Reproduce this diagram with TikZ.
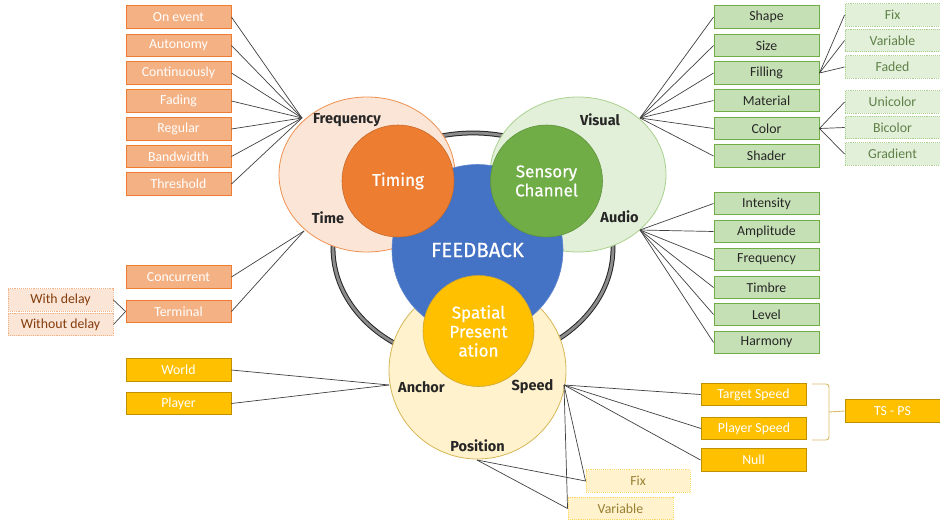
\documentclass[tikz,border=0pt]{standalone}
\usepackage{fontspec}
\setmainfont{Carlito}
\newfontfamily\dinfont{Fira Sans}
\newfontfamily\dinmed[FakeBold=0.6]{Fira Sans}
\usetikzlibrary{shapes.geometric}
\definecolor{orangeD}{HTML}{ED7D31}
\definecolor{orangeM}{HTML}{F4B183}
\definecolor{orangeL}{HTML}{FBE5D6}
\definecolor{orangeT}{HTML}{843C0C}
\definecolor{greenD}{HTML}{70AD47}
\definecolor{greenM}{HTML}{C5E0B4}
\definecolor{greenL}{HTML}{E2F0D9}
\definecolor{greenB}{HTML}{548235}
\definecolor{greenS}{HTML}{A9D18E}
\definecolor{yelD}{HTML}{FFC000}
\definecolor{yelB}{HTML}{BF9000}
\definecolor{yelL}{HTML}{FFF2CC}
\definecolor{yelS}{HTML}{FFD966}
\definecolor{yelT}{HTML}{7F6000}
\definecolor{yelR}{HTML}{D6B656}
\definecolor{blueF}{HTML}{4472C4}
\definecolor{txt}{HTML}{262626}
\tikzset{
  box/.style={rectangle, minimum width=105pt, minimum height=22.5pt, inner sep=0pt, line width=0.9pt, font=\fontsize{13.8}{14}\selectfont},
  obox/.style={box, fill=orangeM, draw=orangeD, text=white},
  odbox/.style={box, fill=orangeL, draw=orangeM, densely dotted, text=orangeT},
  gbox/.style={box, fill=greenM, draw=greenD, text=txt},
  gdbox/.style={box, minimum width=95pt, fill=greenL, draw=greenS, densely dotted, text=greenB!75!gray},
  ybox/.style={box, fill=yelD, draw=yelB, text=white},
  ydbox/.style={box, fill=yelL, draw=yelS, densely dotted, text=yelT!80},
  conn/.style={draw=black!75, line width=0.7pt},
  lbl/.style={font=\dinfont\bfseries\fontsize{14.5}{15}\selectfont, text=txt, inner sep=0pt},
  bigtxt/.style={font=\dinmed\fontsize{17}{19}\selectfont, text=white, align=center},
}
\begin{document}
\begin{tikzpicture}[x=1pt, y=-1pt]
\useasboundingbox (0,0) rectangle (940,522);
% ring
\draw[draw=black!85, line width=1pt, double=black!45, double distance=2.8pt] (473,248) ellipse [x radius=140pt, y radius=115pt];
% background ellipses
\node[ellipse, minimum width=176pt, minimum height=155pt, inner sep=0pt, fill=orangeL, draw=orangeD!85, line width=0.8pt] (timingbg) at (367,174.5) {};
\node[ellipse, minimum width=176pt, minimum height=155pt, inner sep=0pt, fill=greenL, draw=greenS, line width=0.8pt] (sensebg) at (578,174.5) {};
\node[circle, minimum size=177pt, inner sep=0pt, fill=yelL, draw=yelR, line width=0.8pt] (spatialbg) at (477.5,370.5) {};
% main circles
\node[circle, minimum size=171pt, inner sep=0pt, fill=blueF, draw=blueF!85!white, line width=0.6pt, font=\dinmed\fontsize{20.5}{22}\selectfont, text=white] (feedback) at (477.5,250) {\raisebox{-2pt}{FEEDBACK}};
\node[circle, minimum size=112pt, inner sep=0pt, fill=orangeD, draw=orangeD!85!black, line width=0.6pt, bigtxt] (timing) at (398,181) {Timing};
\node[circle, minimum size=112pt, inner sep=0pt, fill=greenD, draw=greenD!85!black, line width=0.6pt, bigtxt] (sensory) at (546.5,181) {Sensory\\Channel};
\node[circle, minimum size=111pt, inner sep=0pt, fill=yelD, draw=yelB!80, line width=0.6pt, bigtxt] (spatial) at (478.5,331) {Spatial\\Present\\ation};
% labels
\node[lbl] (freqlbl) at (347,120) {Frequency};
\node[lbl] (timelbl) at (328,218) {Time};
\node[lbl] (visuallbl) at (600,120) {Visual};
\node[lbl] (audiolbl) at (619.5,217) {Audio};
\node[lbl] (anchorlbl) at (421.5,387) {Anchor};
\node[lbl] (speedlbl) at (532.5,387) {Speed};
\node[lbl] (positionlbl) at (477.5,446) {Position};
% hubs
\coordinate (freqhub) at (302,118);
\coordinate (timehub) at (304,231);
\coordinate (visualhub) at (640,118);
\coordinate (audiohub) at (640,230);
\coordinate (anchorhub) at (389,385);
\coordinate (speedhub) at (564,385);
\coordinate (poshub) at (477,460);
% left boxes
\node[obox] (onevent) at (178.5,17) {On event};
\node[obox] (autonomy) at (178.5,45.5) {Autonomy};
\node[obox] (continuously) at (178.5,73) {Continuously};
\node[obox] (fading) at (178.5,101) {Fading};
\node[obox] (regular) at (178.5,129) {Regular};
\node[obox] (bandwidth) at (178.5,156.5) {Bandwidth};
\node[obox] (threshold) at (178.5,184) {Threshold};
\node[obox] (concurrent) at (178.5,277) {Concurrent};
\node[obox] (terminal) at (178.5,311.5) {Terminal};
\node[odbox] (withdelay) at (60.5,300) {With delay};
\node[odbox] (withoutdelay) at (60.5,324.5) {Without delay};
\node[ybox] (world) at (178.5,370) {World};
\node[ybox] (player) at (178.5,403.5) {Player};
% right boxes
\node[gbox] (shape) at (766.5,17) {Shape};
\node[gbox] (size) at (766.5,45.5) {Size};
\node[gbox] (filling) at (766.5,73) {Filling};
\node[gbox] (material) at (766.5,100.5) {Material};
\node[gbox] (color) at (766.5,128.5) {Color};
\node[gbox] (shader) at (766.5,156) {Shader};
\node[gbox] (intensity) at (766.5,203.5) {Intensity};
\node[gbox] (amplitude) at (766.5,231.5) {Amplitude};
\node[gbox] (frequencyb) at (766.5,259.5) {Frequency};
\node[gbox] (timbre) at (766.5,287.5) {Timbre};
\node[gbox] (level) at (766.5,314.5) {Level};
\node[gbox] (harmony) at (766.5,342.5) {Harmony};
\node[gdbox] (fixg) at (892.5,15) {Fix};
\node[gdbox] (variableg) at (892.5,40.5) {Variable};
\node[gdbox] (faded) at (892.5,67) {Faded};
\node[gdbox] (unicolor) at (892.5,102) {Unicolor};
\node[gdbox] (bicolor) at (892.5,127.5) {Bicolor};
\node[gdbox] (gradient) at (892.5,154) {Gradient};
% bottom boxes
\node[ybox] (targetspeed) at (753.5,394.5) {Target Speed};
\node[ybox] (playerspeed) at (754,428.5) {Player Speed};
\node[ybox] (null) at (753.5,460) {Null};
\node[ydbox, minimum width=104pt] (fixy) at (638,481) {Fix};
\node[ydbox] (variabley) at (620.5,508.5) {Variable};
\node[ybox, minimum width=95pt] (tsps) at (892.5,411) {TS - PS};
% connectors
\foreach \b in {onevent,autonomy,continuously,fading,regular,bandwidth,threshold}
  \draw[conn] (freqhub) -- (\b.east);
\foreach \b in {concurrent,terminal}
  \draw[conn] (timehub) -- (\b.east);
\draw[conn] (terminal.west) -- (withdelay.east);
\draw[conn] (terminal.west) -- (withoutdelay.east);
\foreach \b in {world,player}
  \draw[conn] (anchorhub) -- (\b.east);
\foreach \b in {shape,size,filling,material,color,shader}
  \draw[conn] (visualhub) -- (\b.west);
\foreach \b in {intensity,amplitude,frequencyb,timbre,level,harmony}
  \draw[conn] (audiohub) -- (\b.west);
\foreach \b in {fixg,variableg,faded}
  \draw[conn] (filling.east) -- (\b.west);
\foreach \b in {unicolor,bicolor,gradient}
  \draw[conn] (color.east) -- (\b.west);
\foreach \b in {targetspeed,playerspeed,null,fixy,variabley}
  \draw[conn] (speedhub) -- (\b.west);
\foreach \b in {fixy,variabley}
  \draw[conn] (poshub) -- (\b.west);
% brace
\coordinate (bracetop) at (812,384);
\coordinate (bracebot) at (812,440);
\coordinate (bracemid) at (829,412);
\draw[draw=yelR!90, line width=0.9pt, rounded corners=3pt] (bracetop) -- (829,384) -- (829,440) -- (bracebot);
\draw[draw=yelR!90, line width=0.9pt] (bracemid) -- (tsps.west);
\end{tikzpicture}
\end{document}
